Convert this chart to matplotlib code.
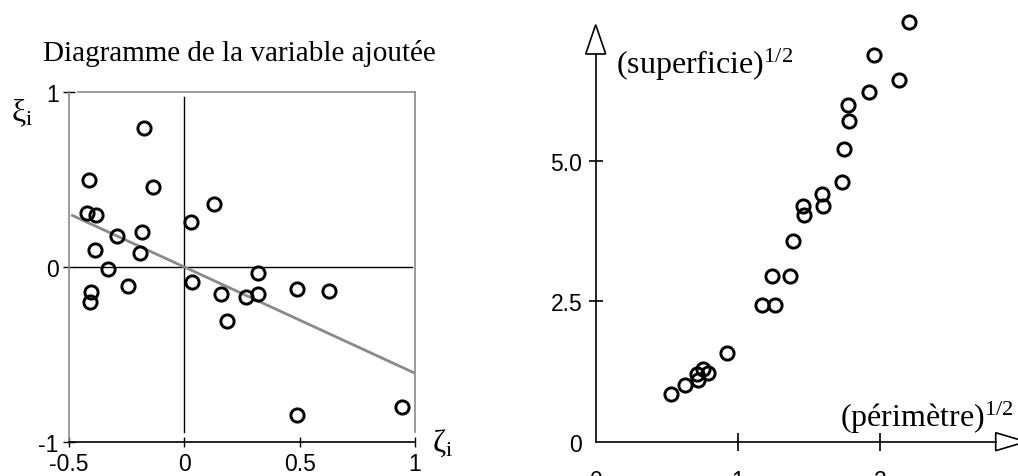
import matplotlib
matplotlib.use("Agg")
import matplotlib.pyplot as plt
from matplotlib.patches import Polygon
import numpy as np

plt.rcParams['mathtext.fontset'] = 'custom'
plt.rcParams['mathtext.rm'] = 'Liberation Serif'
plt.rcParams['mathtext.it'] = 'Liberation Serif:italic'
plt.rcParams['font.family'] = 'Liberation Sans'

# ---- Left panel data: added-variable plot ----
zeta = [-0.173, -0.412, -0.136, 0.129, -0.422, -0.381, 0.030, -0.290, -0.183,
        -0.389, -0.194, -0.332, 0.319, 0.032, -0.243, 0.487, 0.626, -0.403,
        0.160, 0.319, 0.266, -0.407, 0.186, 0.944, 0.488]
xi = [0.796, 0.497, 0.455, 0.360, 0.309, 0.297, 0.259, 0.177, 0.202,
      0.099, 0.080, -0.010, -0.034, -0.084, -0.107, -0.124, -0.135, -0.145,
      -0.152, -0.152, -0.170, -0.202, -0.307, -0.802, -0.848]
fit_x = [-0.485, 0.993]
fit_slope = -0.607
left_xticks = [-0.5, 0, 0.5, 1]
left_xticklabels = ['-0.5', '0', '0.5', '1']
left_yticks = [-1, 0, 1]
left_yticklabels = ['-1', '0', '1']

# ---- Right panel data: sqrt(area) vs sqrt(perimeter) ----
perim = [2.209, 1.958, 2.136, 1.927, 1.779, 1.786, 1.746, 1.732, 1.592, 1.603,
         1.458, 1.469, 1.392, 1.239, 1.366, 1.171, 1.265, 0.925, 0.753, 0.793,
         0.713, 0.720, 0.629, 0.532]
area = [7.47, 6.88, 6.44, 6.23, 5.99, 5.71, 5.20, 4.62, 4.41, 4.20,
        4.19, 4.04, 3.57, 2.94, 2.94, 2.43, 2.43, 1.58, 1.29, 1.22,
        1.20, 1.09, 1.01, 0.85]
right_xticks = [0, 1, 2]
right_xticklabels = ['0', '1', '2']
right_yticks = [0, 2.5, 5.0]
right_yticklabels = ['0', '2.5', '5.0']

W, H = 1018, 477
fig = plt.figure(figsize=(W / 100, H / 100), dpi=100)

def fx(px):
    return px / W

def fy(py):
    return 1 - py / H

gray = '#8a8a8a'
mk = dict(marker='o', linestyle='none', markerfacecolor='none',
          markeredgecolor='black', markersize=9.5, markeredgewidth=2.1)

# ================= Left panel =================
ax1 = fig.add_axes([fx(69), fy(443), (415 - 69) / W, (443 - 93) / H])
ax1.set_xlim(-0.5, 1.0)
ax1.set_ylim(-1.0, 1.0)
for s in ['left', 'top', 'right']:
    ax1.spines[s].set_color(gray)
    ax1.spines[s].set_linewidth(1.2)
ax1.spines['top'].set_bounds(-0.46, 1.0)
ax1.spines['right'].set_bounds(-0.94, 1.0)
ax1.spines['bottom'].set_color('black')
ax1.spines['bottom'].set_linewidth(1.2)

ax1.plot([-0.48, 0.985], [0, 0], color='black', lw=1.0, zorder=1)
ax1.plot([0, 0], [-0.94, 0.97], color='black', lw=1.0, zorder=1)

fx_arr = np.array(fit_x)
ax1.plot(fx_arr, fit_slope * fx_arr, color=gray, lw=2.0, zorder=2)
ax1.plot(zeta, xi, zorder=3, **mk)

ax1.set_xticks(left_xticks)
ax1.set_xticklabels(left_xticklabels)
ax1.set_yticks(left_yticks)
ax1.set_yticklabels(left_yticklabels)
ax1.tick_params(axis='x', direction='inout', length=7, width=1.0, pad=4,
                labelsize=16.5, color='black')
ax1.tick_params(axis='y', direction='inout', length=9, width=1.0, pad=3,
                labelsize=16.5, color='black')

fig.text(fx(239), fy(61), 'Diagramme de la variable ajoutée',
         family='Liberation Serif', fontsize=21, ha='center', va='baseline')
fig.text(fx(11), fy(121), r'$\mathrm{\xi}_{\mathrm{i}}$',
         fontsize=23, ha='left', va='baseline')
fig.text(fx(432), fy(452), r'$\mathrm{\zeta}_{\mathrm{i}}$',
         fontsize=23, ha='left', va='baseline')

# ================= Right panel =================
ux = 142.0   # px per x unit
uy = 56.2    # px per y unit
x0, y0 = 595.7, 442.7
xmax, ymax = 2.974, 7.6
ax2 = fig.add_axes([fx(x0), fy(y0), xmax * ux / W, ymax * uy / H])
ax2.set_xlim(0, xmax)
ax2.set_ylim(0, ymax)
ax2.patch.set_alpha(0)
for s in ['top', 'right']:
    ax2.spines[s].set_visible(False)

ybase = (y0 - 55) / uy
ytip = (y0 - 25.7) / uy
xbase = (995.7 - x0) / ux
xtip = (1026 - x0) / ux
ax2.spines['left'].set_bounds(0, ybase)
ax2.spines['bottom'].set_bounds(0, xbase)
ax2.spines['left'].set_linewidth(1.2)
ax2.spines['bottom'].set_linewidth(1.2)

hw_x = 10 / ux
ax2.add_patch(Polygon([[-hw_x, ybase], [hw_x, ybase], [0, ytip]], closed=True,
                      facecolor='white', edgecolor='black', lw=1.2, clip_on=False))
hw_y = 9 / uy
ax2.add_patch(Polygon([[xbase, -hw_y], [xbase, hw_y], [xtip, 0]], closed=True,
                      facecolor='white', edgecolor='black', lw=1.2, clip_on=False))

ax2.plot(perim, area, clip_on=False, zorder=3, **mk)

ax2.set_xticks(right_xticks)
ax2.set_xticklabels(right_xticklabels)
ax2.set_yticks(right_yticks)
ax2.set_yticklabels(right_yticklabels)
ax2.tick_params(axis='x', direction='inout', length=13, width=1.2, pad=13,
                labelsize=16.5)
ax2.tick_params(axis='y', direction='inout', length=9.5, width=1.2, pad=5,
                labelsize=16.5)
ax2.xaxis.get_major_ticks()[0].tick1line.set_visible(False)
ax2.yaxis.get_major_ticks()[0].tick1line.set_visible(False)

fig.text(fx(616), fy(74), r'(superficie)$^{\mathrm{1/2}}$',
         family='Liberation Serif', fontsize=23, ha='left', va='baseline')
fig.text(fx(840), fy(427), r'(périmètre)$^{\mathrm{1/2}}$',
         family='Liberation Serif', fontsize=23, ha='left', va='baseline')

fig.savefig('out.png', dpi=100)
